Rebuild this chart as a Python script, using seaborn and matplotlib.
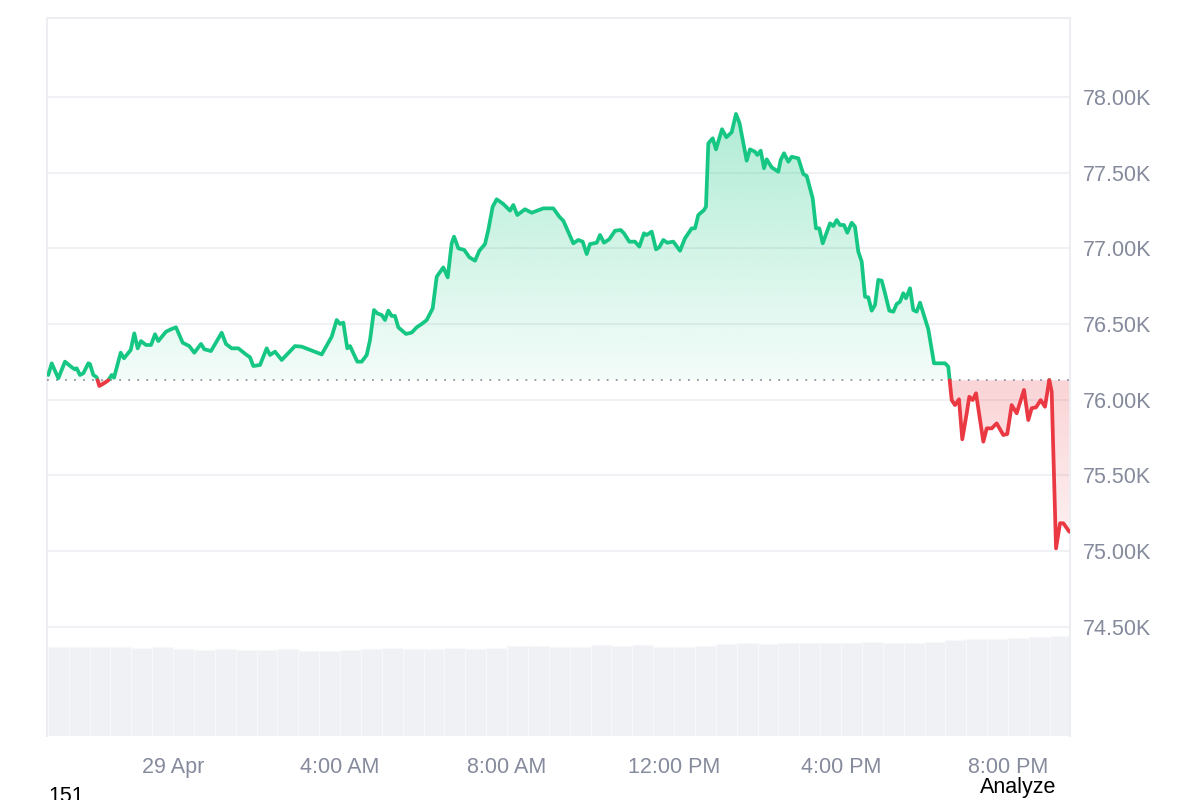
import numpy as np
import pandas as pd
import matplotlib
matplotlib.use("Agg")
import matplotlib.pyplot as plt
import seaborn as sns
from matplotlib.patches import PathPatch
from matplotlib.colors import to_rgb

# ---------------- data ----------------
# hours relative to 29 Apr 00:00
hours = [-2.987, -2.905, -2.747, -2.587, -2.426, -2.347, -2.307, -2.228, -2.148, -2.029,
         -1.988, -1.909, -1.828, -1.765, -1.629, -1.550, -1.468, -1.413, -1.253, -1.174,
         -1.013, -0.927, -0.846, -0.766, -0.647, -0.527, -0.431, -0.352, -0.168, -0.048,
         0.072, 0.232, 0.390, 0.510, 0.671, 0.750, 0.910, 1.166, 1.269, 1.406,
         1.564, 1.765, 1.844, 1.923, 2.084, 2.244, 2.323, 2.443, 2.604, 2.922,
         3.083, 3.562, 3.801, 3.921, 4.000, 4.079, 4.175, 4.240, 4.414, 4.520,
         4.640, 4.719, 4.814, 4.894, 4.999, 5.078, 5.157, 5.238, 5.317, 5.396,
         5.581, 5.717, 5.837, 5.957, 6.077, 6.220, 6.316, 6.474, 6.580, 6.675,
         6.731, 6.834, 6.977, 7.097, 7.234, 7.337, 7.473, 7.552, 7.657, 7.753,
         7.911, 8.072, 8.151, 8.247, 8.431, 8.592, 8.869, 9.109, 9.253, 9.349,
         9.588, 9.708, 9.813, 9.909, 9.988, 10.149, 10.228, 10.323, 10.450, 10.587,
         10.723, 10.802, 10.929, 11.066, 11.169, 11.281, 11.346, 11.466, 11.569, 11.648,
         11.744, 11.840, 11.983, 12.144, 12.263, 12.424, 12.503, 12.582, 12.719, 12.766,
         12.822, 12.927, 13.006, 13.150, 13.253, 13.382, 13.485, 13.569, 13.741, 13.820,
         13.940, 13.995, 14.077, 14.156, 14.220, 14.340, 14.498, 14.556, 14.635, 14.738,
         14.819, 14.977, 15.097, 15.179, 15.322, 15.401, 15.480, 15.562, 15.737, 15.816,
         15.897, 15.976, 16.072, 16.151, 16.256, 16.335, 16.414, 16.496, 16.575, 16.654,
         16.735, 16.814, 16.893, 16.975, 17.054, 17.157, 17.253, 17.334, 17.413, 17.492,
         17.557, 17.653, 17.732, 17.813, 17.892, 18.091, 18.228, 18.491, 18.570, 18.651,
         18.731, 18.826, 18.905, 19.011, 19.073, 19.154, 19.234, 19.409, 19.490, 19.610,
         19.729, 19.887, 19.983, 20.088, 20.208, 20.383, 20.486, 20.567, 20.671, 20.783,
         20.886, 20.989, 21.046, 21.150, 21.246, 21.325, 21.469]

prices = [76163, 76240, 76141, 76251, 76214, 76200, 76207, 76163, 76174, 76240,
          76235, 76163, 76148, 76090, 76112, 76128, 76163, 76145, 76310, 76273,
          76328, 76438, 76339, 76387, 76361, 76361, 76432, 76387, 76449, 76465,
          76478, 76376, 76354, 76310, 76368, 76333, 76321, 76442, 76368, 76339,
          76339, 76295, 76280, 76222, 76229, 76339, 76295, 76317, 76262, 76354,
          76350, 76299, 76416, 76526, 76500, 76509, 76339, 76354, 76251, 76251,
          76295, 76394, 76592, 76570, 76559, 76526, 76588, 76553, 76553, 76478,
          76434, 76443, 76478, 76500, 76526, 76603, 76812, 76874, 76808, 77033,
          77077, 77000, 76989, 76941, 76918, 76984, 77028, 77121, 77275, 77324,
          77293, 77249, 77286, 77220, 77258, 77235, 77264, 77264, 77209, 77182,
          77033, 77055, 77044, 76962, 77028, 77037, 77088, 77037, 77060, 77116,
          77121, 77099, 77044, 77044, 77011, 77099, 77088, 77110, 76993, 77007,
          77055, 77037, 77044, 76984, 77066, 77132, 77132, 77220, 77253, 77275,
          77694, 77727, 77654, 77787, 77734, 77767, 77888, 77828, 77579, 77654,
          77638, 77617, 77645, 77529, 77588, 77535, 77506, 77584, 77628, 77572,
          77605, 77595, 77491, 77478, 77330, 77132, 77132, 77033, 77165, 77147,
          77187, 77154, 77154, 77103, 77169, 77143, 76978, 76912, 76680, 76676,
          76588, 76625, 76791, 76786, 76703, 76588, 76581, 76632, 76647, 76703,
          76670, 76736, 76592, 76581, 76641, 76465, 76240, 76240, 76218, 75997,
          75964, 76002, 75738, 75910, 76019, 75997, 76042, 75722, 75810, 75810,
          75843, 75766, 75773, 75964, 75910, 76064, 75865, 75943, 75949, 75997,
          75953, 76130, 76052, 75017, 75183, 75183, 75127]

open_price = 76128

# volume bars (half-hour buckets, relative units)
volume_hours = [-2.75, -2.25, -1.75, -1.25, -0.75, -0.25, 0.25, 0.75, 1.25, 1.75,
                2.25, 2.75, 3.25, 3.75, 4.25, 4.75, 5.25, 5.75, 6.25, 6.75,
                7.25, 7.75, 8.25, 8.75, 9.25, 9.75, 10.25, 10.75, 11.25, 11.75,
                12.25, 12.75, 13.25, 13.75, 14.25, 14.75, 15.25, 15.75, 16.25, 16.75,
                17.25, 17.75, 18.25, 18.75, 19.25, 19.75, 20.25, 20.75, 21.25]
volume = [89, 89, 89, 89, 88, 89, 87, 86, 87, 86,
          86, 87, 85, 85, 86, 87, 88, 87, 87, 88,
          87, 88, 90, 90, 89, 89, 91, 90, 91, 89,
          89, 90, 92, 93, 92, 93, 93, 93, 93, 94,
          93, 93, 94, 96, 97, 97, 98, 99, 100]

y_ticks = [74500, 75000, 75500, 76000, 76500, 77000, 77500, 78000]
x_ticks = [0, 4, 8, 12, 16, 20]
x_labels = ["29 Apr", "4:00 AM", "8:00 AM", "12:00 PM", "4:00 PM", "8:00 PM"]

GREEN = "#16c784"
RED = "#ea3943"
GREY_TXT = "#858b9c"

# ---------------- style ----------------
sns.set_theme(style="white")
plt.rcParams["font.family"] = ["Liberation Sans", "DejaVu Sans"]

fig = plt.figure(figsize=(12, 8), dpi=100)
fig.patch.set_facecolor("white")
ax = fig.add_axes([47 / 1200, 64 / 800, 1023 / 1200, 718 / 800])

xmin, xmax = -3.018, 21.485
ymin, ymax = 73777, 78522

# --- volume on twin axis (created first so ax formatting sticks) ---
ax2 = ax.twinx()
sns.histplot(x=volume_hours, weights=volume, binwidth=0.5, binrange=(-3.0, 21.5),
             ax=ax2, color="#eff1f5", alpha=1.0, edgecolor="#f7f8fa", linewidth=0.8)
ax2.set_ylim(0, 718)
ax2.set_yticks([])
ax2.set_ylabel("")
ax2.set_xlabel("")
for s in ax2.spines.values():
    s.set_visible(False)
ax.set_zorder(2)
ax2.set_zorder(1)
ax.patch.set_visible(False)

# --- insert crossing points with the open price ---
x = np.asarray(hours, float)
y = np.asarray(prices, float)
xs, ys = [x[0]], [y[0]]
for i in range(1, len(x)):
    y0, y1 = y[i - 1], y[i]
    if (y0 - open_price) * (y1 - open_price) < 0:
        t = (open_price - y0) / (y1 - y0)
        xs.append(x[i - 1] + t * (x[i] - x[i - 1]))
        ys.append(open_price)
    xs.append(x[i])
    ys.append(y[i])
xs = np.array(xs)
ys = np.array(ys)

# --- gradient fills clipped to area ---
def gradient_fill(lo, hi, color, a_top, a_bot, y_top, y_bot):
    poly = ax.fill_between(xs, lo, hi, facecolor="none", edgecolor="none")
    patch = PathPatch(poly.get_paths()[0], transform=ax.transData,
                      facecolor="none", edgecolor="none")
    ax.add_patch(patch)
    n = 256
    img = np.zeros((n, 1, 4))
    img[..., :3] = to_rgb(color)
    img[..., 3] = np.linspace(a_top, a_bot, n)[:, None]
    im = ax.imshow(img, aspect="auto", extent=[xmin, xmax, y_bot, y_top],
                   origin="upper", zorder=1, interpolation="bilinear")
    im.set_clip_path(patch)

gradient_fill(np.full_like(ys, open_price), np.maximum(ys, open_price),
              GREEN, 0.34, 0.05, max(prices), open_price)
gradient_fill(np.minimum(ys, open_price), np.full_like(ys, open_price),
              RED, 0.22, 0.07, open_price, min(prices))

# --- split line into up/down runs ---
rows = []
seg = 0
prev_side = None
for i in range(1, len(xs)):
    side = "up" if (ys[i - 1] + ys[i]) / 2 >= open_price else "down"
    if side != prev_side:
        seg += 1
        rows.append((xs[i - 1], ys[i - 1], side, seg))
        prev_side = side
    rows.append((xs[i], ys[i], side, seg))
df = pd.DataFrame(rows, columns=["h", "p", "side", "seg"])

sns.lineplot(data=df, x="h", y="p", hue="side", units="seg", estimator=None,
             sort=False, palette={"up": GREEN, "down": RED}, linewidth=2.7,
             legend=False, ax=ax, zorder=4, solid_joinstyle="round",
             solid_capstyle="round")

ax.axhline(open_price, color="#8e94a3", ls=(0, (1, 4)), lw=1.3, zorder=3)

# --- axes formatting ---
ax.set_xlim(xmin, xmax)
ax.set_ylim(ymin, ymax)
ax2.set_xlim(xmin, xmax)
ax.set_xlabel("")
ax.set_ylabel("")
ax.set_yticks(y_ticks)
ax.set_yticklabels([f"{v / 1000:.2f}K" for v in y_ticks])
ax.set_xticks(x_ticks)
ax.set_xticklabels(x_labels)
ax.yaxis.tick_right()
ax.tick_params(axis="y", length=0, pad=9.5, labelsize=15.5, colors=GREY_TXT,
               labelright=True, labelleft=False, left=False, right=False)
ax.tick_params(axis="x", length=0, pad=15, labelsize=15.5, colors=GREY_TXT)
ax.grid(axis="y", color="#eff1f4", lw=1.5, zorder=0)
ax.grid(axis="x", visible=False)
for s in ["left", "top", "right"]:
    ax.spines[s].set_color("#eceef2")
    ax.spines[s].set_linewidth(1.5)
ax.spines["bottom"].set_visible(False)

# --- footer texts ---
fig.text(48 / 1200, -0.003, "151", fontsize=15.5, color="black", ha="left", va="baseline")
fig.text(980 / 1200, 1 - 793 / 800, "Analyze", fontsize=15.5, color="black",
         ha="left", va="baseline")

fig.savefig("out.png", dpi=100, facecolor="white")
